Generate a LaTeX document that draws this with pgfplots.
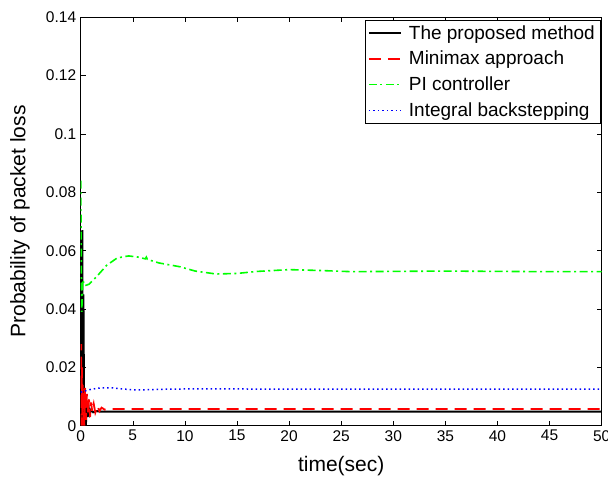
\documentclass[border=0pt]{standalone}
\usepackage{pgfplots}
\pgfplotsset{compat=1.18}
\usepackage{fontspec}
\setmainfont{Liberation Sans}
\definecolor{pgreen}{rgb}{0,1,0}
\begin{document}
\begin{tikzpicture}
\path[use as bounding box] (-80.7pt,-53.3pt) rectangle (527.3pt,425.7pt);
\begin{axis}[
  at={(0,0)}, anchor=south west,
  scale only axis, width=521pt, height=408.4pt,
  xmin=0, xmax=50, ymin=0, ymax=0.14,
  xtick={0,5,...,50}, ytick={0,0.02,...,0.14},
  yticklabels={0,0.02,0.04,0.06,0.08,0.1,0.12,0.14},
  tick align=inside, tick pos=both, major tick length=5pt,
  axis line style={black, line width=0.6pt},
  every tick/.style={black, line width=0.5pt},
  /pgf/number format/assume math mode=true,
  tick label style={font=\fontsize{15.5}{18}\selectfont},
  xticklabel style={yshift=-1pt},
  yticklabel style={xshift=-1pt},
  xlabel={time(sec)}, ylabel={Probability of packet loss},
  label style={font=\fontsize{21}{25}\selectfont},
  xlabel style={at={(axis description cs:0.5,-0.0985)}, anchor=center},
  ylabel style={at={(axis description cs:-0.1165,0.5)}, anchor=center},
  legend cell align=left,
  legend style={at={(rel axis cs:0.997,0.993)}, anchor=north east, draw=black, line width=0.6pt,
    fill=white, font=\fontsize{19}{22}\selectfont, inner xsep=3pt, inner ysep=3pt,
    row sep=6.5pt, /tikz/every odd column/.append style={column sep=5pt}},
  legend image code/.code={\draw[#1] (0pt,0pt) -- (16pt,0pt) -- (32pt,0pt);},
]
\addplot[black, line width=2pt] coordinates {
(0,0) (0.03,0.035) (0.06,0.0) (0.1,0.055) (0.15,0.067) (0.18,0.03) (0.22,0.0) (0.26,0.045)
(0.3,0.02) (0.33,0.0) (0.37,0.0117) (0.42,0.003) (0.5,0.0) (0.55,0.007) (0.65,0.003)
(0.75,0.0065) (0.85,0.004) (1.0,0.0055) (1.2,0.0046) (1.5,0.005) (2,0.0048) (50,0.0048)};
\addlegendentry{The proposed method}
\addplot[red, line width=1.8pt, dash pattern=on 12pt off 7pt] coordinates {
(0,0.0) (0.04,0.028) (0.08,0.005) (0.12,0.02) (0.16,0.0) (0.2,0.014) (0.25,0.002) (0.3,0.012)
(0.35,0.0) (0.42,0.013) (0.5,0.002) (0.6,0.011) (0.7,0.004) (0.8,0.009) (0.9,0.003) (1.0,0.008)
(1.1,0.005) (1.25,0.0075) (1.4,0.0045) (1.6,0.0068) (1.8,0.005) (2.0,0.0062) (2.3,0.0055)
(3,0.0057) (50,0.0057)};
\addlegendentry{Minimax approach}
\addplot[draw=pgreen, line width=1.6pt, dash pattern=on 8pt off 3.5pt on 2pt off 3.5pt] coordinates {
(0,0.084) (0.05,0.06) (0.1,0.039) (0.2,0.05) (0.4,0.048) (0.8,0.0485) (1.5,0.051) (2.5,0.055)
(3.5,0.0575) (4.6,0.0582) (5.5,0.0578) (6.2,0.0572) (6.3,0.0578) (6.4,0.057) (7.5,0.0558)
(9.5,0.0545) (11,0.053) (13,0.052) (15,0.0522) (17,0.0529) (20,0.0535) (23,0.0532)
(26,0.0528) (30,0.0529) (35,0.053) (40,0.0529) (45,0.0528) (50,0.0528)};
\addlegendentry{PI controller}
\addplot[blue, line width=1.5pt, dash pattern=on 1.5pt off 3pt] coordinates {
(0,0.0115) (0.5,0.012) (1,0.0125) (2,0.013) (3,0.013) (4,0.0126) (5,0.0123) (6,0.0123)
(8,0.0125) (10,0.0126) (15,0.0126) (20,0.0125) (50,0.0125)};
\addlegendentry{Integral backstepping}
\end{axis}
\end{tikzpicture}
\end{document}
